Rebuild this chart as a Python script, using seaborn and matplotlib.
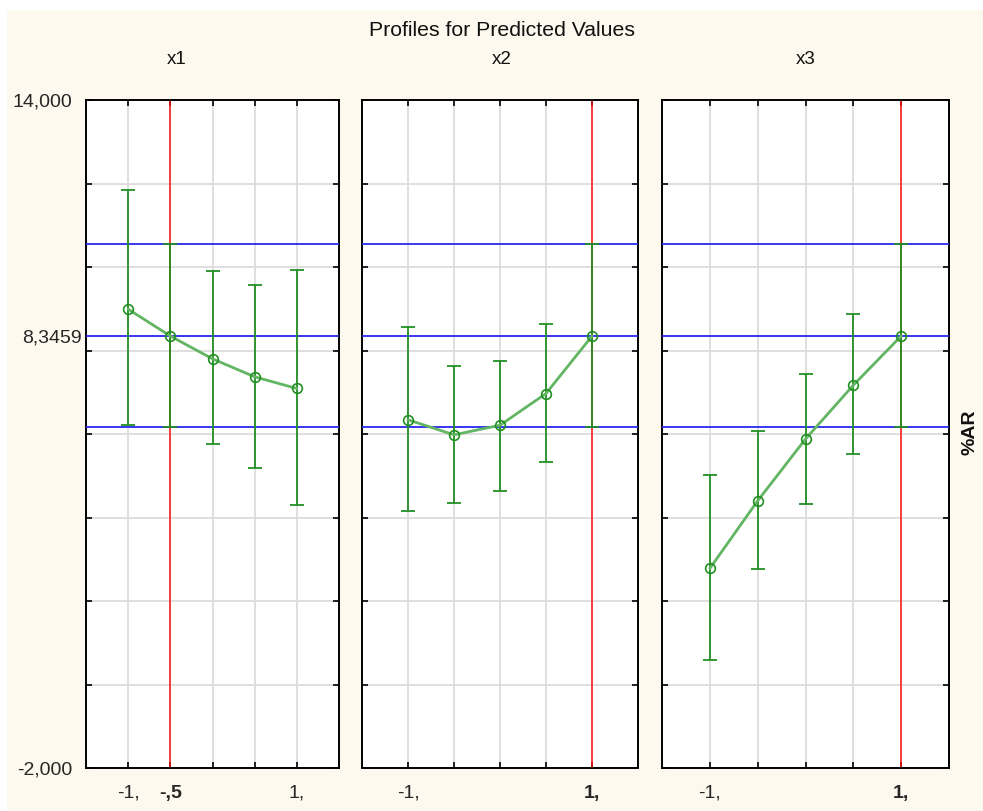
import matplotlib
matplotlib.use("Agg")
import matplotlib.pyplot as plt
from matplotlib.patches import Rectangle
import numpy as np
import pandas as pd
import seaborn as sns

# ---- data -------------------------------------------------------------
levels = [-1.0, -0.5, 0.0, 0.5, 1.0]

x1_pred = [8.99, 8.3459, 7.80, 7.37, 7.09]
x1_lo = [6.22, 6.16, 5.76, 5.19, 4.30]
x1_hi = [11.84, 10.56, 9.90, 9.58, 9.93]

x2_pred = [6.34, 5.98, 6.21, 6.97, 8.3459]
x2_lo = [4.16, 4.34, 4.64, 5.33, 6.16]
x2_hi = [8.56, 7.64, 7.76, 8.63, 10.56]

x3_pred = [2.78, 4.40, 5.88, 7.17, 8.3459]
x3_lo = [0.59, 2.77, 4.33, 5.53, 6.16]
x3_hi = [5.02, 6.07, 7.44, 8.87, 10.56]

factors = ["x1", "x2", "x3"]
current_levels = [-0.5, 1.0, 1.0]
current_labels = ["-,5", "1,", "1,"]
predicted_value = 8.3459
ci_low, ci_high = 6.16, 10.56

y_ticks = [-2, 0, 2, 4, 6, 8, 10, 12, 14]
y_ticklabels = ["-2,000", "", "", "", "", "", "", "", "14,000"]
y_mid_label = "8,3459"

title = "Profiles for Predicted Values"
response = "%AR"

# ---- style ------------------------------------------------------------
CREAM = "#FEF9EE"
GREEN = "#228F22"
LINE_GREEN = "#62B562"
BLUE = "#2828F0"
RED = "#FF1010"
GRID = "#DCDCDC"

sns.set_theme(style="white")
plt.rcParams["font.family"] = ["Liberation Sans", "DejaVu Sans"]
plt.rcParams["text.color"] = "#111111"

W, H = 983, 811
fig = plt.figure(figsize=(W / 100, H / 100), dpi=100, facecolor="white")
fig.patches.append(Rectangle((7 / W, 0), 1, 1 - 10 / H, transform=fig.transFigure,
                             facecolor=CREAM, edgecolor="none", zorder=-10))

panel_px = [(86, 339), (362, 638), (662, 949)]
top_px, bot_px = 100, 768

series = [(x1_pred, x1_lo, x1_hi), (x2_pred, x2_lo, x2_hi), (x3_pred, x3_lo, x3_hi)]
title_x = [177, 502, 806]

for i, ((l, r), (pred, lo, hi)) in enumerate(zip(panel_px, series)):
    ax = fig.add_axes([l / W, 1 - bot_px / H, (r - l) / W, (bot_px - top_px) / H])
    ax.set_facecolor("white")
    pred = np.array(pred)
    lo = np.array(lo)
    hi = np.array(hi)
    df = pd.DataFrame({"level": levels, "pred": pred})

    ax.axvline(current_levels[i], color=RED, lw=1.1, zorder=2)
    for yv in (ci_low, predicted_value, ci_high):
        ax.axhline(yv, color=BLUE, lw=1.3, zorder=3)

    ax.errorbar(levels, pred, yerr=[pred - lo, hi - pred], fmt="none",
                ecolor=GREEN, elinewidth=1.3, capsize=5, capthick=1.3, zorder=4)
    sns.lineplot(data=df, x="level", y="pred", ax=ax, color=LINE_GREEN, lw=2.0,
                 marker="o", markersize=7, markerfacecolor="none",
                 markeredgecolor=GREEN, markeredgewidth=1.2, zorder=5)

    ax.set_xlim(-1.5, 1.5)
    ax.set_ylim(-2, 14)
    ax.set_xlabel("")
    ax.set_ylabel("")

    ax.set_xticks(levels)
    xl = []
    for v in levels:
        if v == current_levels[i]:
            xl.append(current_labels[i])
        elif v in (-1.0, 1.0):
            xl.append("-1," if v < 0 else "1,")
        else:
            xl.append("")
    ax.set_xticklabels(xl)
    for t, v in zip(ax.get_xticklabels(), levels):
        if v == current_levels[i]:
            t.set_fontweight("bold")

    ax.set_yticks(y_ticks)
    if i == 0:
        ax.set_yticklabels(y_ticklabels)
        ax.set_yticks([predicted_value], minor=True)
        ax.set_yticklabels([y_mid_label], minor=True)
    else:
        ax.set_yticklabels([])

    ax.grid(True, which="major", color=GRID, lw=1.3)
    ax.set_axisbelow(True)
    ax.tick_params(which="major", direction="in", length=4, width=1.2, color="black",
                   top=True, right=True, bottom=True, left=True, labelsize=14)
    ax.tick_params(which="minor", length=0, labelsize=14, left=True)
    ax.tick_params(axis="x", pad=12)
    ax.tick_params(axis="y", pad=10)
    for sp in ax.spines.values():
        sp.set_color("black")
        sp.set_linewidth(1.4)
        sp.set_visible(True)

    fig.text(title_x[i] / W, 1 - 60 / H, factors[i], ha="center", va="center", fontsize=13.5)

fig.text(502 / W, 1 - 31 / H, title, ha="center", va="center", fontsize=15.3)
fig.text(970 / W, 1 - 432 / H, response, ha="center", va="center", rotation=90,
         fontsize=14, fontweight="bold")

fig.savefig("out.png", dpi=100, facecolor=fig.get_facecolor())
